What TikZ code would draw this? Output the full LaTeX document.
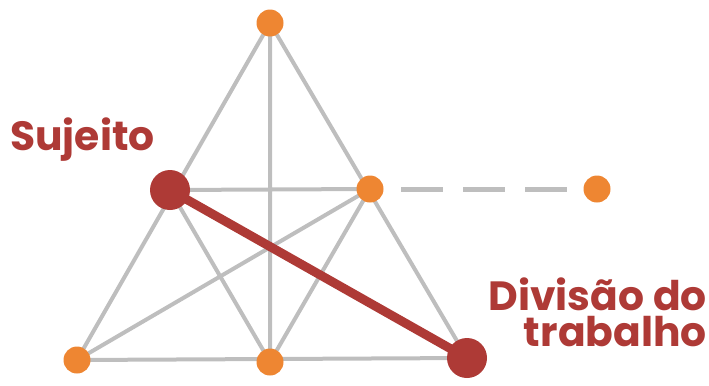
\documentclass[tikz,border=0pt]{standalone}
\usepackage{fontspec}
\setmainfont{Poppins}
\definecolor{dred}{HTML}{AE3A36}
\definecolor{orng}{HTML}{EE8632}
\definecolor{lgray}{HTML}{BEBEBE}
\begin{document}
\begin{tikzpicture}[x=1bp,y=-1bp,
  small/.style={circle,fill=orng,inner sep=0pt,minimum size=27bp},
  big/.style={circle,fill=dred,inner sep=0pt,minimum size=40bp},
  edge/.style={draw=lgray,line width=4bp},
  strong/.style={draw=dred,line width=9bp},
  lab/.style={text=dred,font=\bfseries\fontsize{41}{36}\selectfont,inner sep=0pt}]
\useasboundingbox (0,0) rectangle (709,385);
\coordinate (T) at (270,23);
\coordinate (S) at (170,190);
\coordinate (R) at (370,189);
\coordinate (F) at (597,189);
\coordinate (BL) at (77,360);
\coordinate (BM) at (270,362);
\coordinate (BR) at (467,358);
\draw[edge] (T) -- (BL) (T) -- (BR) (T) -- (BM) (S) -- (R) (BL) -- (BR)
  (S) -- (BM) (R) -- (BM) (R) -- (BL);
\draw[strong] (S) -- (BR);
\draw[draw=lgray,line width=5bp,dash pattern=on 42bp off 20bp,dash phase=42bp] (381,189) -- (586,189);
\node[small] (t) at (T) {};
\node[small] (r) at (R) {};
\node[small] (f) at (F) {};
\node[small] (bl) at (BL) {};
\node[small] (bm) at (BM) {};
\node[big] (s) at (S) {};
\node[big] (br) at (BR) {};
\node[lab,anchor=base west] (ls) at (10,150) {Sujeito};
\node[lab,anchor=base east,align=right] (lb) at (707,346) {Divisão do\\trabalho};
\end{tikzpicture}
\end{document}
